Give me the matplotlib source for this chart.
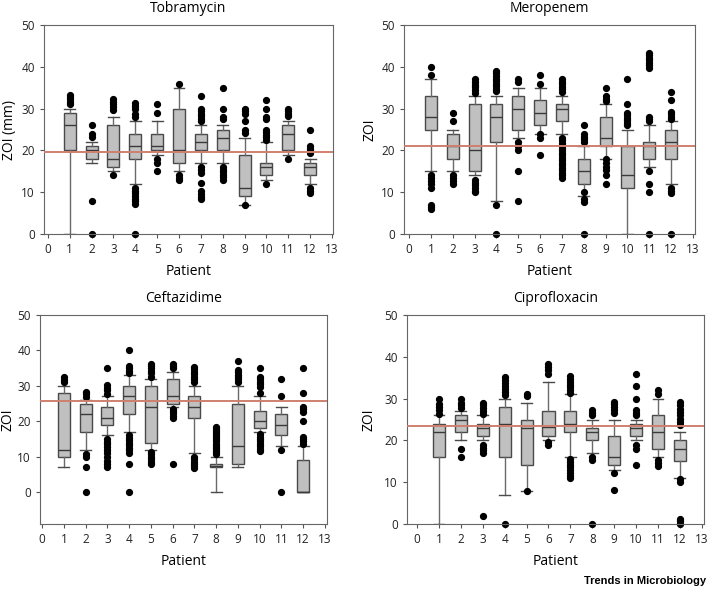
import numpy as np
import matplotlib
matplotlib.use("Agg")
import matplotlib.pyplot as plt

plt.rcParams['font.family'] = ['Open Sans', 'DejaVu Sans']

patients = list(range(1, 13))
xticks = list(range(0, 14))

# ---- Tobramycin ----
tob_whislo = [0, 17, 15, 12, 19, 15, 17, 17, 7, 13, 19, 12]
tob_q1 = [20, 18, 16, 18, 20, 17, 20, 20, 9, 14, 20, 14]
tob_med = [26, 20, 18, 21, 21, 20, 22, 23, 11, 16, 24, 16]
tob_q3 = [29, 21, 26, 24, 24, 30, 24, 25, 19, 17, 26, 17]
tob_whishi = [30, 22, 28, 27, 27, 35, 26, 26, 23, 22, 27, 18]
tob_fliers = [
    [31, 31.6, 32.2, 32.8, 33.2],
    [23.2, 23.9, 26, 8, 0],
    [29.6, 30.3, 31, 31.6, 32.2, 14],
    [27.9, 28.7, 30, 30.7, 31.3, 11, 10.4, 9.7, 9.1, 8.4, 7.8, 7.2, 0],
    [29, 31, 18, 17, 15],
    [36, 14, 13.4, 12.8],
    [33, 30, 29.4, 28.8, 28.2, 27.5, 27, 16, 15.3, 14.6, 12.3, 10.2, 9.6, 8.9, 8.3],
    [35, 30, 28, 27.4, 16, 15.4, 14.8, 14.2, 13.6, 13],
    [30, 29.4, 28.8, 27, 24.8, 24.2, 7],
    [32, 30, 28, 27.4, 25, 24.4, 23.8, 23.2, 22.6, 12],
    [30, 29.4, 28.8, 28.2, 18],
    [25, 21, 20.4, 19.8, 19.3, 11, 10.4, 9.7],
]

# ---- Meropenem ----
mer_whislo = [15, 15, 14, 8, 23, 24, 24, 9, 18, 0, 16, 12]
mer_q1 = [25, 18, 15, 22, 25, 26, 27, 12, 21, 11, 18, 18]
mer_med = [28, 21, 20, 28, 30, 29, 30, 15, 23, 14, 21, 22]
mer_q3 = [33, 24, 31, 31, 33, 32, 31, 18, 28, 21, 22, 25]
mer_whishi = [37, 25, 33, 33, 35, 35, 33, 21, 31, 25, 26, 27]
mer_fliers = [
    [40, 38, 14, 13.3, 12.6, 11.9, 11, 7, 6.4, 5.9],
    [29, 27, 14, 13.3, 12.6, 12],
    [37, 36.4, 35.7, 35.1, 34.5, 33.8, 13, 12.3, 11.7, 11, 10.4, 10],
    [39, 38.4, 37.8, 37.2, 36.6, 36, 35.4, 34.8, 34.2, 7, 0],
    [37, 36.3, 22, 21, 20, 15, 8],
    [38, 36, 24, 23, 19],
    [37, 36.4, 35.8, 35.2, 34.6, 34, 23, 22.4, 21.8, 21.2, 20.6, 20, 19.4, 18.8,
     18.2, 17.6, 17, 16.4, 15.8, 15.2, 14.6, 14, 13.4],
    [26, 24, 23.3, 22.7, 22, 10, 8.4, 7.7, 0],
    [35, 33, 32.4, 31.8, 18, 17, 16, 15.4, 14, 12],
    [37, 31, 29, 28.4, 27.8, 27.2, 26.6, 26],
    [43.4, 42.8, 42.2, 41.6, 41, 40.4, 39.8, 28, 27.5, 27, 15, 12, 10, 0],
    [34, 32, 29.3, 28.7, 28, 27.4, 11, 10.4, 9.8, 0],
]

# ---- Ceftazidime ----
cef_whislo = [7, 12, 16, 17, 12, 24, 11, 0, 7, 17, 13, 0]
cef_q1 = [10, 17, 19, 22, 14, 25, 21, 7, 8, 18, 16, 0]
cef_med = [12, 22, 21, 27, 24, 27, 24, 7.5, 13, 20, 19, 0]
cef_q3 = [28, 25, 24, 30, 30, 32, 27, 8, 25, 23, 22, 9]
cef_whishi = [30, 26, 27, 33, 32, 34, 30, 10, 30, 27, 24, 13]
cef_fliers = [
    [32.4, 31.7, 31],
    [28.3, 27.7, 26.9, 10.9, 10, 7, 0],
    [35, 30.2, 29.5, 28.8, 27.8, 15, 14.2, 13.5, 12.8, 12, 11.1, 10, 8.8, 8, 7],
    [40, 35.6, 34.9, 34.2, 33.5, 16, 15.3, 14.6, 13.9, 13.2, 12.5, 11.8, 11.1, 8, 0],
    [36.3, 35.6, 34.9, 34.2, 33.5, 32.5, 11.4, 10.7, 10, 9.3, 8.6, 7.9],
    [36.3, 35.5, 34.9, 23.6, 22.9, 22.2, 21.4, 20.8, 8],
    [35.4, 34.7, 34, 33.3, 32.6, 31.9, 31.2, 10, 9.3, 8.6, 7.9, 7.3, 6.7],
    [18.5, 17.9, 17.3, 16.7, 16.1, 15.5, 14.9, 14.3, 13.7, 13.1, 12.5, 11.9,
     11.3, 10.7],
    [37, 34.5, 33.8, 33.1, 32.4, 31.8, 31.2],
    [35, 32.4, 31.8, 31.1, 30.5, 29.8, 28, 16.3, 15.6, 15, 14.3, 13.6, 12.9,
     12.3, 11.7],
    [32, 27, 12, 0],
    [35, 28, 24.1, 23.4, 22.6, 20, 15.6, 15, 14.3, 13.6],
]

# ---- Ciprofloxacin ----
cip_whislo = [0, 20, 20, 7, 8, 20, 16, 17, 13, 20, 16, 11]
cip_q1 = [16, 22, 21, 16, 14.2, 21, 22, 20, 14, 21, 18, 15]
cip_med = [22, 25, 23, 24, 23, 23.3, 24, 22, 16, 23, 22, 18]
cip_q3 = [24, 26, 24, 28, 25, 27, 27, 23, 21, 24, 26, 20]
cip_whishi = [26, 27, 26, 30, 29, 34, 31, 25, 25, 25, 30, 22]
cip_fliers = [
    [30, 28.6, 27.9, 27.2, 26.4],
    [30, 29, 28.4, 27.8, 18, 16],
    [29, 28.4, 27.8, 27.1, 26.4, 19, 18.3, 17.6, 16.9, 2],
    [35.2, 34.4, 33.7, 33, 32.2, 31.5, 30.8, 0],
    [31.2, 30.6, 8],
    [38.3, 37.6, 36.9, 35.8, 19.7, 18.9],
    [35.3, 34.7, 34, 33.3, 32.7, 32, 31.4, 15.5, 14.8, 14.2, 13.6, 12.9, 12.3,
     11.6, 11],
    [27.2, 26.6, 26, 16.1, 15.3, 0],
    [29.2, 28.6, 27.9, 27.2, 26.5, 12.1, 8.2],
    [36, 33, 30, 27.2, 26.6, 26, 18.9, 17.9, 14],
    [32, 31, 15.3, 14.6, 13.9],
    [29.2, 28.4, 27.6, 26.8, 26, 25.2, 24.5, 23.7, 10.8, 10, 1.2, 0.6, 0],
]

titles = ["Tobramycin", "Meropenem", "Ceftazidime", "Ciprofloxacin"]
ylabels = ["ZOI (mm)", "ZOI", "ZOI", "ZOI"]
ref_lines = [19.5, 21, 25.7, 23.4]

panels = [
    (tob_whislo, tob_q1, tob_med, tob_q3, tob_whishi, tob_fliers),
    (mer_whislo, mer_q1, mer_med, mer_q3, mer_whishi, mer_fliers),
    (cef_whislo, cef_q1, cef_med, cef_q3, cef_whishi, cef_fliers),
    (cip_whislo, cip_q1, cip_med, cip_q3, cip_whishi, cip_fliers),
]

W, H = 708, 591
# axes boxes in pixels: left, right, top, bottom
boxes_px = [(44, 333, 25, 234), (404, 695, 25, 234),
            (40, 327, 315, 524), (407, 704, 315, 524)]
xlims = [(-0.18, 13.05), (-0.23, 13.09), (-0.1, 13.1), (-0.46, 13.1)]
ylims = [(0, 50), (0, 50), (-9, 50), (0, 50)]
ylabel_right_px = [17, 377, 16, 377]

fig = plt.figure(figsize=(W / 100, H / 100), dpi=100)

for i, (stats_src, title) in enumerate(zip(panels, titles)):
    l, r, t, b = boxes_px[i]
    ax = fig.add_axes([l / W, 1 - b / H, (r - l) / W, (b - t) / H])
    whislo, q1, med, q3, whishi, fliers = stats_src
    stats = []
    for k in range(len(patients)):
        stats.append(dict(whislo=whislo[k], q1=q1[k], med=med[k], q3=q3[k],
                          whishi=whishi[k], fliers=fliers[k]))
    ax.bxp(stats, positions=patients, widths=0.55, capwidths=0.5,
           patch_artist=True,
           boxprops=dict(facecolor='#c0c0c0', edgecolor='#4a4a4a', linewidth=1.0),
           medianprops=dict(color='#3a3a3a', linewidth=1.0),
           whiskerprops=dict(color='#6a6a6a', linewidth=1.0),
           capprops=dict(color='#4a4a4a', linewidth=1.0),
           flierprops=dict(marker='o', markerfacecolor='black',
                           markeredgecolor='black', markersize=4.2,
                           clip_on=False))
    ax.axhline(ref_lines[i], color='#d0806f', linewidth=1.4, zorder=5)

    ax.set_xlim(*xlims[i])
    ax.set_ylim(*ylims[i])
    ax.set_xticks(xticks)
    ax.set_xticklabels([str(x) for x in xticks])
    ax.set_yticks([0, 10, 20, 30, 40, 50])
    ax.tick_params(axis='both', labelsize=8.5, length=3, width=0.8,
                   direction='out', colors='#555555', labelcolor='#222222')
    for s in ax.spines.values():
        s.set_color('#666666')
        s.set_linewidth(0.8)
    ax.set_title(title, fontsize=10, pad=9)
    ax.set_xlabel("Patient", fontsize=10, labelpad=6)
    ax.set_ylabel(ylabels[i], fontsize=10)
    ax.yaxis.set_label_coords((ylabel_right_px[i] - l) / (r - l), 0.5)

fig.text(0.997, 0.008, "Trends in Microbiology", ha='right', va='bottom',
         fontsize=8, fontweight='bold', family=['Liberation Sans', 'DejaVu Sans'])

fig.savefig("out.png", dpi=100)
